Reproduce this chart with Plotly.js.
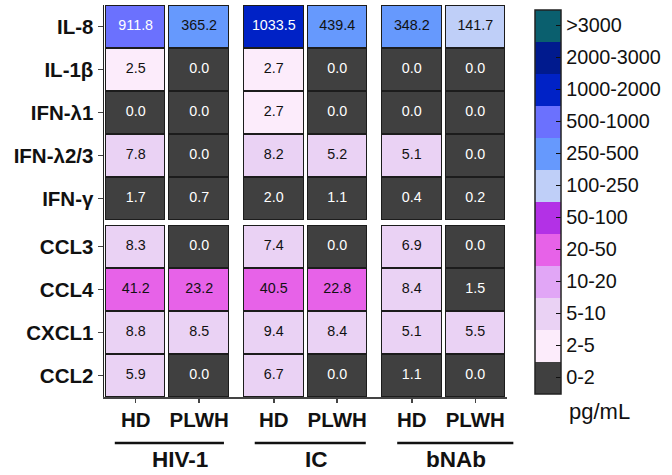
<!DOCTYPE html>
<html>
<head>
<meta charset="utf-8">
<script src="https://cdn.plot.ly/plotly-3.0.1.min.js"></script>
<style>html,body{margin:0;padding:0;background:#fff;}#chart{width:672px;height:475px;}</style>
</head>
<body>
<div id="chart"></div>
<script>
// ---- data ----
const cytokines = ['IL-8','IL-1β','IFN-λ1','IFN-λ2/3','IFN-γ','CCL3','CCL4','CXCL1','CCL2'];
const groups = ['HIV-1','IC','bNAb'];
const subjects = ['HD','PLWH'];
// columns: HIV-1 HD, HIV-1 PLWH, IC HD, IC PLWH, bNAb HD, bNAb PLWH
const hiv_HD   = [911.8, 2.5, 0.0, 7.8, 1.7, 8.3, 41.2, 8.8, 5.9];
const hiv_PLWH = [365.2, 0.0, 0.0, 0.0, 0.7, 0.0, 23.2, 8.5, 0.0];
const ic_HD    = [1033.5, 2.7, 2.7, 8.2, 2.0, 7.4, 40.5, 9.4, 6.7];
const ic_PLWH  = [439.4, 0.0, 0.0, 5.2, 1.1, 0.0, 22.8, 8.4, 0.0];
const bnab_HD  = [348.2, 0.0, 0.0, 5.1, 0.4, 6.9, 8.4, 5.1, 1.1];
const bnab_PLWH= [141.7, 0.0, 0.0, 0.0, 0.2, 0.0, 1.5, 5.5, 0.0];
const binLabels = ['0-2','2-5','5-10','10-20','20-50','50-100','100-250','250-500','500-1000','1000-2000','2000-3000','>3000'];
const binUpper  = [2,5,10,20,50,100,250,500,1000,2000,3000];
const binColors = ['#404040','#fcecfb','#ead2f4','#e1a6f6','#e762e8','#b331e6','#bfcff8','#6699fd','#6b71fe','#0022c6','#001a8e','#0a5f6e'];

// ---- layout helpers ----
const columns = [hiv_HD, hiv_PLWH, ic_HD, ic_PLWH, bnab_HD, bnab_PLWH];
const GX = 0.175;   // gap between groups (x units)
const GY = 0.12;    // gap between row blocks (y units)
const splitRow = 5;

function binOf(v){ let b=0; binUpper.forEach(t=>{ if(v>t) b++; }); return b; }

const xEdges=[], colData=[];
let xc=0; xEdges.push(0);
columns.forEach((c,i)=>{
  if(i>0 && i%2===0){ xc+=GX; xEdges.push(xc); colData.push(null); }
  xc+=1; xEdges.push(xc); colData.push(c);
});
const xMax = xc;
const yEdges=[0]; const rowIdx=[]; let yc=0;
cytokines.forEach((n,r)=>{
  if(r===splitRow){ yc+=GY; yEdges.push(yc); rowIdx.push(null); }
  yc+=1; yEdges.push(yc); rowIdx.push(r);
});
const yMax = yc;

const z = rowIdx.map(r => colData.map(c => (r===null||c===null)?null:binOf(c[r])));

const tx=[], ty=[], tt=[], tcol=[];
function lum(hex){const n=parseInt(hex.slice(1),16);return ((n>>16)*299+((n>>8)&255)*587+(n&255)*114)/1000;}
const colCenters=[], rowCenters=[];
colData.forEach((c,j)=>{ if(c) colCenters.push((xEdges[j]+xEdges[j+1])/2); });
rowIdx.forEach((r,i)=>{ if(r!==null) rowCenters.push((yEdges[i]+yEdges[i+1])/2); });
columns.forEach((c,j)=>{
  c.forEach((v,r)=>{
    tx.push(colCenters[j]); ty.push(rowCenters[r]); tt.push(v.toFixed(1));
    tcol.push(lum(binColors[binOf(v)])>128 ? '#111' : '#fff');
  });
});

const nb = binColors.length;
const cscale=[];
binColors.forEach((c,i)=>{ cscale.push([i/nb,c]); cscale.push([(i+1)/nb,c]); });

const FONT = 'Arial, "Liberation Sans", sans-serif';

const underlay = {
  type:'heatmap', x:xEdges, y:yEdges, z:z, zmin:-0.5, zmax:nb-0.5,
  colorscale:[[0,'#1c1c1c'],[1,'#1c1c1c']], showscale:false, xgap:3, ygap:0, hoverinfo:'skip'
};
const heat = {
  type:'heatmap', x:xEdges, y:yEdges, z:z, zmin:-0.5, zmax:nb-0.5,
  colorscale:cscale, xgap:5, ygap:2, hoverinfo:'skip',
  colorbar:{
    tickvals:binLabels.map((_,i)=>i), ticktext:binLabels,
    thicknessmode:'pixels', thickness:26, lenmode:'pixels', len:384,
    x:(535-104)/403, xanchor:'left', xpad:0, y:(397-201.5)/392, yanchor:'middle', ypad:0,
    outlinewidth:1.5, outlinecolor:'#222', ticks:'inside', ticklen:5, tickcolor:'#111', tickwidth:1.5,
    tickfont:{family:FONT, size:19.8, color:'#111'}
  }
};
const labels = {
  type:'scatter', mode:'text', x:tx, y:ty, text:tt, hoverinfo:'skip', cliponaxis:false,
  textfont:{family:FONT, size:14.3, color:tcol}, showlegend:false
};

const plotL=104, plotW=403;
const toPaperX = u => u/xMax;
const pairStarts = [0, 2+GX, 4+2*GX];
const shapes=[], annotations=[];
const lineOff=[[0.17,-0.11],[0.2,-0.05],[0.27,0.1]];
const textOff=[0.2,0.17,0.2];
groups.forEach((g,i)=>{
  const a=pairStarts[i], b=a+2;
  shapes.push({type:'line', xref:'paper', yref:'paper', x0:toPaperX(a+lineOff[i][0]), x1:toPaperX(b+lineOff[i][1]), y0:(397-443)/392, y1:(397-443)/392, line:{color:'#111', width:2.5}});
  annotations.push({xref:'paper', yref:'paper', x:toPaperX(a+1+textOff[i]), y:(397-459)/392, text:g, showarrow:false, xanchor:'center', yanchor:'middle', font:{family:FONT, size:22.5, color:'#111', weight:'bold'}});
});
annotations.push({xref:'paper', yref:'paper', x:(567-104)/403, y:(397-411)/392, text:'pg/mL', showarrow:false, xanchor:'left', yanchor:'middle', font:{family:FONT, size:22, color:'#111'}});

const layout = {
  width:672, height:475, margin:{l:plotL, r:672-plotL-plotW, t:5, b:78},
  paper_bgcolor:'#fff', plot_bgcolor:'#fff', showlegend:false,
  font:{family:FONT, color:'#111'},
  xaxis:{range:[0,xMax], tickvals:colCenters, ticktext:columns.map((_,j)=>subjects[j%2]),
    showgrid:false, zeroline:false, showline:true, linecolor:'#444', linewidth:1.5,
    ticks:'outside', ticklen:4, tickcolor:'#444', tickwidth:1.5,
    tickfont:{family:FONT, size:20.5, color:'#111', weight:'bold'}, fixedrange:true},
  yaxis:{range:[yMax,0], tickvals:rowCenters, ticktext:cytokines,
    showgrid:false, zeroline:false, showline:true, linecolor:'#222', linewidth:1.5,
    ticks:'outside', ticklen:5, tickcolor:'#444', tickwidth:1.5,
    tickfont:{family:FONT, size:20.5, color:'#111', weight:'bold'}, fixedrange:true},
  shapes:shapes, annotations:annotations
};
Plotly.newPlot('chart', [underlay, heat, labels], layout, {displayModeBar:false, staticPlot:true});
</script>
</body>
</html>
